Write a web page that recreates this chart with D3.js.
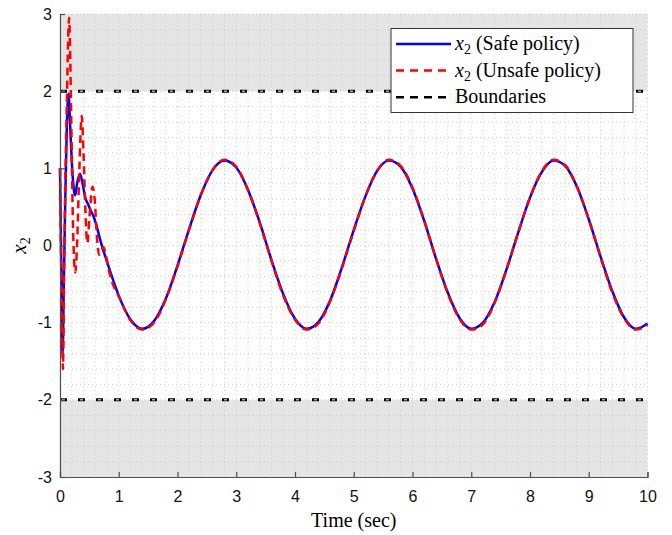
<!DOCTYPE html>
<html>
<head>
<meta charset="utf-8">
<script src="https://cdn.jsdelivr.net/npm/d3@7"></script>
<style>
  body { margin: 0; background: #fff; }
  svg { display: block; }
</style>
</head>
<body>
<svg id="chart" width="672" height="535"></svg>
<script>
// safe policy x2 trajectory
var safeT = [0, 0.02, 0.045, 0.065, 0.09, 0.115, 0.145, 0.17, 0.2, 0.24, 0.26, 0.29, 0.34, 0.38, 0.43, 0.48, 0.53, 0.57, 0.62, 0.7, 0.8, 0.9,
  1.0, 1.2, 1.4, 1.6, 1.8, 2.0, 2.2, 2.4, 2.6, 2.8, 3.0, 3.2, 3.4, 3.6, 3.8, 4.0, 4.2, 4.4, 4.6, 4.8, 5.0, 5.2, 5.4, 5.6, 5.8,
  6.0, 6.2, 6.4, 6.6, 6.8, 7.0, 7.2, 7.4, 7.6, 7.8, 8.0, 8.2, 8.4, 8.6, 8.8, 9.0, 9.2, 9.4, 9.6, 9.8, 10.0];
var safeX2 = [1.0, -0.2, -1.4, -0.5, 0.6, 1.5, 1.97, 1.6, 1.1, 0.7, 0.65, 0.8, 0.93, 0.82, 0.62, 0.53, 0.44, 0.38, 0.26, 0.03, -0.21, -0.44,
  -0.65, -0.96, -1.08, -0.98, -0.69, -0.26, 0.22, 0.66, 0.98, 1.10, 1.01, 0.72, 0.30, -0.19, -0.63, -0.95, -1.08, -0.99, -0.71, -0.28,
  0.20, 0.64, 0.97, 1.10, 1.02, 0.74, 0.32, -0.17, -0.61, -0.94, -1.08, -1.00, -0.73, -0.31, 0.17, 0.62, 0.95, 1.10, 1.03, 0.76,
  0.34, -0.14, -0.59, -0.93, -1.08, -1.01];

// unsafe policy x2 trajectory
var unsafeT = [0, 0.025, 0.05, 0.07, 0.09, 0.115, 0.14, 0.155, 0.17, 0.19, 0.22, 0.26, 0.29, 0.33, 0.37, 0.40, 0.43, 0.465, 0.5, 0.555,
  0.59, 0.63, 0.665, 0.7, 0.735, 0.78, 0.82, 0.9, 1.0,
  1.2, 1.4, 1.6, 1.8, 2.0, 2.2, 2.4, 2.6, 2.8, 3.0, 3.2, 3.4, 3.6, 3.8, 4.0, 4.2, 4.4, 4.6, 4.8, 5.0, 5.2, 5.4, 5.6, 5.8,
  6.0, 6.2, 6.4, 6.6, 6.8, 7.0, 7.2, 7.4, 7.6, 7.8, 8.0, 8.2, 8.4, 8.6, 8.8, 9.0, 9.2, 9.4, 9.6, 9.8, 10.0];
var unsafeX2 = [1.0, -0.5, -1.6, -0.3, 0.8, 1.8, 2.7, 2.95, 2.6, 1.7, 0.3, -0.35, 0.0, 1.0, 1.68, 1.2, 0.5, 0.03, 0.35, 0.76,
  0.6, 0.1, -0.12, -0.08, -0.02, -0.12, -0.28, -0.5, -0.66,
  -0.97, -1.09, -1.0, -0.70, -0.27, 0.21, 0.66, 0.98, 1.11, 1.02, 0.72, 0.29, -0.20, -0.65, -0.96, -1.09, -1.01, -0.72, -0.29,
  0.19, 0.64, 0.97, 1.11, 1.03, 0.75, 0.32, -0.17, -0.62, -0.95, -1.09, -1.02, -0.74, -0.31, 0.17, 0.62, 0.96, 1.11, 1.04,
  0.76, 0.34, -0.15, -0.61, -0.94, -1.09, -1.03];

var boundaries = [2, -2];
var unsafeBands = [[2, 3], [-3, -2]];
var xDomain = [0, 10];
var yDomain = [-3, 3];
var xTicks = [0, 1, 2, 3, 4, 5, 6, 7, 8, 9, 10];
var yTicks = [-3, -2, -1, 0, 1, 2, 3];
var legendLabels = ["(Safe policy)", "(Unsafe policy)", "Boundaries"];

var plotL = 60, plotR = 647.5, plotT = 14, plotB = 477;
var svg = d3.select("#chart");

var x = d3.scaleLinear().domain(xDomain).range([plotL, plotR]);
var y = d3.scaleLinear().domain(yDomain).range([plotB, plotT]);

// shaded unsafe regions
svg.append("g").selectAll("rect").data(unsafeBands).enter()
  .append("rect")
  .attr("x", x(xDomain[0]))
  .attr("width", x(xDomain[1]) - x(xDomain[0]))
  .attr("y", function(d){ return y(d[1]); })
  .attr("height", function(d){ return y(d[0]) - y(d[1]); })
  .attr("fill", "#e5e5e5");

// grid (minor every 0.2, major every 1)
var grid = svg.append("g").attr("fill", "none");
grid.selectAll("line.vx").data(x.ticks(50)).enter()
  .append("line").attr("class", "vx")
  .attr("x1", function(d){ return x(d); }).attr("x2", function(d){ return x(d); })
  .attr("y1", plotT).attr("y2", plotB)
  .attr("stroke", "#c4c4c4").attr("stroke-width", 0.8).attr("stroke-dasharray", "1,3");
grid.selectAll("line.hy").data(y.ticks(30)).enter()
  .append("line").attr("class", "hy")
  .attr("y1", function(d){ return y(d); }).attr("y2", function(d){ return y(d); })
  .attr("x1", plotL).attr("x2", plotR)
  .attr("stroke", "#c4c4c4").attr("stroke-width", 0.8).attr("stroke-dasharray", "1,3");

// boundaries
var bnd = svg.append("g");
bnd.selectAll("line.b").data(boundaries).enter()
  .append("line").attr("class", "b")
  .attr("x1", plotL).attr("x2", plotR)
  .attr("y1", function(d){ return y(d); }).attr("y2", function(d){ return y(d); })
  .attr("stroke", "#000").attr("stroke-width", 3).attr("stroke-dasharray", "7,11");
bnd.selectAll("line.w").data(boundaries).enter()
  .append("line").attr("class", "w")
  .attr("x1", plotL).attr("x2", plotR)
  .attr("y1", function(d){ return y(d); }).attr("y2", function(d){ return y(d); })
  .attr("stroke", "#fff").attr("stroke-width", 1).attr("stroke-dasharray", "3,15").attr("stroke-dashoffset", -2);

var line = d3.line()
  .x(function(d){ return x(d[0]); })
  .y(function(d){ return y(d[1]); })
  .curve(d3.curveMonotoneX);

svg.append("path")
  .datum(d3.zip(safeT, safeX2))
  .attr("d", line)
  .attr("fill", "none").attr("stroke", "#0000ff").attr("stroke-width", 2.5)
  .attr("stroke-linejoin", "round");

svg.append("path")
  .datum(d3.zip(unsafeT, unsafeX2))
  .attr("d", line)
  .attr("fill", "none").attr("stroke", "#ff0000").attr("stroke-width", 2.5)
  .attr("stroke-dasharray", "8,5");

// axes
var xAxis = svg.append("g").attr("transform", "translate(0," + plotB + ")")
  .call(d3.axisBottom(x).tickValues(xTicks).tickSize(-5).tickPadding(14)
    .tickFormat(function(d){ return String(d); }));
var yAxis = svg.append("g").attr("transform", "translate(" + plotL + ",0)")
  .call(d3.axisLeft(y).tickValues(yTicks).tickSize(-5).tickPadding(8)
    .tickFormat(function(d){ return String(d); }));

[xAxis, yAxis].forEach(function(a){
  a.select(".domain").attr("stroke", "#4d4d4d").attr("stroke-width", 1.2);
  a.selectAll(".tick line").attr("stroke", "#4d4d4d").attr("stroke-width", 1.2);
  a.selectAll(".tick text").attr("fill", "#111")
    .style("font-family", "'Liberation Sans', Arial, sans-serif").style("font-size", "16px");
});

// axis labels
svg.append("text")
  .attr("x", (plotL + plotR) / 2).attr("y", 527)
  .attr("text-anchor", "middle")
  .style("font-family", "'Liberation Serif', serif").style("font-size", "20px")
  .text("Time (sec)");

var yl = svg.append("text")
  .attr("transform", "translate(26," + y(0) + ") rotate(-90)")
  .attr("text-anchor", "middle")
  .style("font-family", "'Liberation Serif', serif").style("font-size", "21px");
yl.append("tspan").style("font-style", "italic").text("x");
yl.append("tspan").attr("dy", 4).style("font-size", "14px").text("2");

// legend
var lg = svg.append("g");
lg.append("rect")
  .attr("x", 391).attr("y", 28.5).attr("width", 242).attr("height", 84)
  .attr("fill", "#fff").attr("stroke", "#333").attr("stroke-width", 1);

var legendStyles = [
  { color: "#0000ff", dash: null },
  { color: "#ff0000", dash: "8,6" },
  { color: "#000000", dash: "8,6" }
];
legendLabels.forEach(function(label, i){
  var cy = 44 + i * 26.6;
  lg.append("line")
    .attr("x1", 396).attr("x2", 451).attr("y1", cy).attr("y2", cy)
    .attr("stroke", legendStyles[i].color).attr("stroke-width", 2.5)
    .attr("stroke-dasharray", legendStyles[i].dash);
  var t = lg.append("text")
    .attr("x", 455).attr("y", cy + 6)
    .style("font-family", "'Liberation Serif', serif").style("font-size", "20px");
  if (i < 2) {
    t.append("tspan").style("font-style", "italic").text("x");
    t.append("tspan").attr("dy", 4).style("font-size", "14px").text("2");
    t.append("tspan").attr("dy", -4).text(" " + label);
  } else {
    t.text(label);
  }
});
</script>
</body>
</html>
